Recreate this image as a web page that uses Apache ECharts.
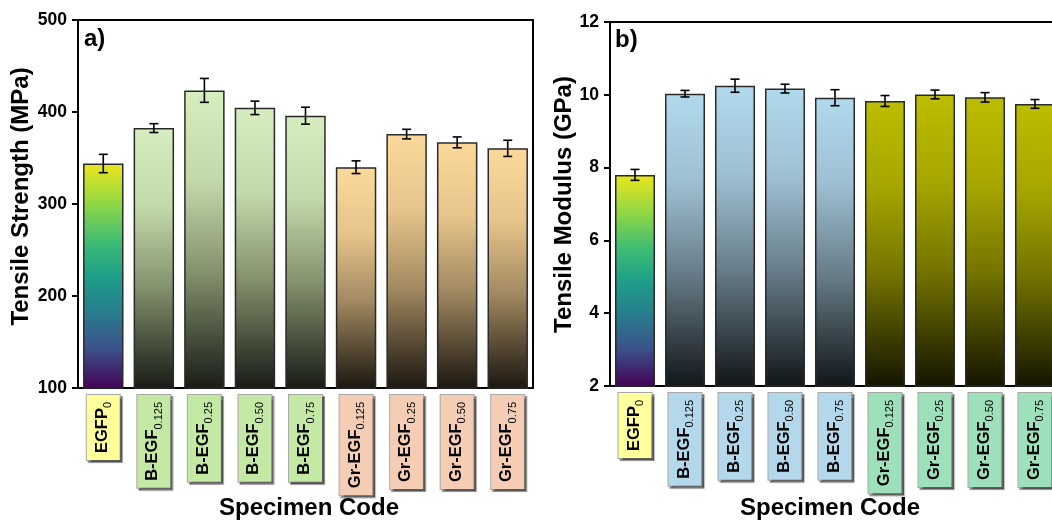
<!DOCTYPE html>
<html>
<head>
<meta charset="utf-8">
<script src="https://cdn.jsdelivr.net/npm/echarts@6/dist/echarts.min.js"></script>
<style>
html,body{margin:0;padding:0;background:#fff;}
#chart{width:1052px;height:520px;}
</style>
</head>
<body>
<div id="chart"></div>
<script>
// ---- data ----
const catMain = ['EGFP', 'B-EGF', 'B-EGF', 'B-EGF', 'B-EGF', 'Gr-EGF', 'Gr-EGF', 'Gr-EGF', 'Gr-EGF'];
const catSub = ['0', '0.125', '0.25', '0.50', '0.75', '0.125', '0.25', '0.50', '0.75'];
const groups = ['base', 'B', 'B', 'B', 'B', 'Gr', 'Gr', 'Gr', 'Gr'];

const strength = [344, 382.5, 423.5, 404.5, 396, 340, 376, 367, 360.5];
const strengthErr = [10, 4.8, 13, 7.3, 9.2, 6.9, 5.2, 5.9, 8.8];
const modulus = [7.80, 10.03, 10.25, 10.17, 9.92, 9.83, 10.01, 9.93, 9.75];
const modulusErr = [0.15, 0.09, 0.18, 0.12, 0.22, 0.15, 0.12, 0.13, 0.12];

const strengthTicks = {min: 100, max: 500, interval: 100};
const modulusTicks = {min: 2, max: 12, interval: 2};

// ---- styles ----
const FONT = '"Liberation Sans", Arial, Helvetica, sans-serif';
function grad(stops) {
  return {type: 'linear', x: 0, y: 0, x2: 0, y2: 1,
    colorStops: stops.map(s => ({offset: s[0], color: s[1]}))};
}
const viridis = grad([[0, '#ece51b'], [0.18, '#8fd744'], [0.35, '#3dbc74'], [0.5, '#1f9e89'],
  [0.65, '#277f8e'], [0.82, '#3b528b'], [1, '#440154']]);
const barColors = {
  a: {
    base: viridis,
    B: grad([[0, '#d6eebf'], [0.3, '#c2d9aa'], [0.6, '#86946f'], [1, '#181b15']]),
    Gr: grad([[0, '#fcd99b'], [0.3, '#e6c48a'], [0.6, '#a38a62'], [1, '#1b160f']])
  },
  b: {
    base: viridis,
    B: grad([[0, '#b1d9ed'], [0.3, '#9ebfd2'], [0.6, '#6a808c'], [1, '#111619']]),
    Gr: grad([[0, '#bdbd00'], [0.3, '#a6a600'], [0.6, '#757500'], [1, '#141400']])
  }
};
const boxColors = {
  a: {base: '#ffff9c', B: '#c4e9a4', Gr: '#f4cdb4'},
  b: {base: '#ffff9c', B: '#b3d7eb', Gr: '#9de0b9'}
};

function catData(panel) {
  return catMain.map((m, i) => ({
    value: '{m|' + m + '}{s|' + catSub[i] + '}',
    textStyle: {backgroundColor: boxColors[panel][groups[i]]}
  }));
}
function barData(vals, panel) {
  return vals.map((v, i) => ({value: v, itemStyle: {color: barColors[panel][groups[i]]}}));
}
function errData(vals, errs) {
  return vals.map((v, i) => [i, v, errs[i]]);
}
function errRender(params, api) {
  const x = api.value(0), v = api.value(1), e = api.value(2);
  const hi = api.coord([x, v + e]);
  const lo = api.coord([x, v - e]);
  const hw = 4.5;
  const st = {stroke: '#000', lineWidth: 1.6};
  return {type: 'group', children: [
    {type: 'line', shape: {x1: hi[0], y1: hi[1], x2: lo[0], y2: lo[1]}, style: st},
    {type: 'line', shape: {x1: hi[0] - hw, y1: hi[1], x2: hi[0] + hw, y2: hi[1]}, style: st},
    {type: 'line', shape: {x1: lo[0] - hw, y1: lo[1], x2: lo[0] + hw, y2: lo[1]}, style: st}
  ]};
}

function xAxisCfg(gridIndex, panel) {
  return {
    type: 'category', gridIndex: gridIndex, data: catData(panel),
    axisLine: {lineStyle: {color: '#000', width: 2}},
    axisTick: {alignWithLabel: true, length: 5, lineStyle: {color: '#000', width: 2}},
    axisLabel: {
      rotate: 90, interval: 0, margin: 7,
      padding: [4, 7, 6, 7],
      borderColor: '#a8a8a8', borderWidth: 1,
      shadowColor: 'rgba(0,0,0,0.45)', shadowBlur: 1, shadowOffsetX: 2, shadowOffsetY: 2,
      rich: {
        m: {fontFamily: FONT, fontSize: 16.5, fontWeight: 'bold', color: '#000', lineHeight: 23},
        s: {fontFamily: FONT, fontSize: 11, color: '#000', lineHeight: 12, verticalAlign: 'bottom'}
      }
    }
  };
}
function yAxisCfg(gridIndex, ticks) {
  return {
    type: 'value', gridIndex: gridIndex, min: ticks.min, max: ticks.max, interval: ticks.interval,
    splitLine: {show: false},
    axisLine: {show: true, lineStyle: {color: '#000', width: 2}},
    axisTick: {show: true, length: 6, lineStyle: {color: '#000', width: 2}},
    axisLabel: {margin: 11, fontFamily: FONT, fontSize: 17.5, fontWeight: 'bold', color: '#000'}
  };
}

const chart = echarts.init(document.getElementById('chart'), null, {renderer: 'canvas'});
const titleStyle = {fontFamily: FONT, fontSize: 24, fontWeight: 'bold', fill: '#000'};
chart.setOption({
  animation: false,
  backgroundColor: '#fff',
  grid: [
    {left: 78, top: 20, width: 455, height: 368, show: true, borderColor: '#000', borderWidth: 2,
      backgroundColor: 'transparent', containLabel: false, outerBoundsMode: 'none'},
    {left: 610, top: 22, width: 450, height: 364, show: true, borderColor: '#000', borderWidth: 2,
      backgroundColor: 'transparent', containLabel: false, outerBoundsMode: 'none'}
  ],
  xAxis: [xAxisCfg(0, 'a'), xAxisCfg(1, 'b')],
  yAxis: [yAxisCfg(0, strengthTicks), yAxisCfg(1, modulusTicks)],
  series: [
    {type: 'bar', xAxisIndex: 0, yAxisIndex: 0, barWidth: '80%', data: barData(strength, 'a'),
      itemStyle: {borderColor: '#2a2a2a', borderWidth: 1.5}},
    {type: 'custom', xAxisIndex: 0, yAxisIndex: 0, renderItem: errRender, encode: {x: 0, y: 1},
      data: errData(strength, strengthErr), z: 5},
    {type: 'bar', xAxisIndex: 1, yAxisIndex: 1, barWidth: '80%', data: barData(modulus, 'b'),
      itemStyle: {borderColor: '#2a2a2a', borderWidth: 1.5}},
    {type: 'custom', xAxisIndex: 1, yAxisIndex: 1, renderItem: errRender, encode: {x: 0, y: 1},
      data: errData(modulus, modulusErr), z: 5}
  ],
  graphic: [
    {type: 'text', x: 21, y: 196.5, rotation: Math.PI / 2,
      style: Object.assign({text: 'Tensile Strength (MPa)', textAlign: 'center', textVerticalAlign: 'middle'}, titleStyle)},
    {type: 'text', x: 564, y: 204.5, rotation: Math.PI / 2,
      style: Object.assign({text: 'Tensile Modulus (GPa)', textAlign: 'center', textVerticalAlign: 'middle'}, titleStyle)},
    {type: 'text', x: 309, y: 508,
      style: Object.assign({text: 'Specimen Code', textAlign: 'center', textVerticalAlign: 'middle'}, titleStyle)},
    {type: 'text', x: 830, y: 508,
      style: Object.assign({text: 'Specimen Code', textAlign: 'center', textVerticalAlign: 'middle'}, titleStyle)},
    {type: 'text', x: 84, y: 39,
      style: Object.assign({text: 'a)', textAlign: 'left', textVerticalAlign: 'middle'}, titleStyle)},
    {type: 'text', x: 615, y: 40,
      style: Object.assign({text: 'b)', textAlign: 'left', textVerticalAlign: 'middle'}, titleStyle)}
  ]
});
</script>
</body>
</html>
